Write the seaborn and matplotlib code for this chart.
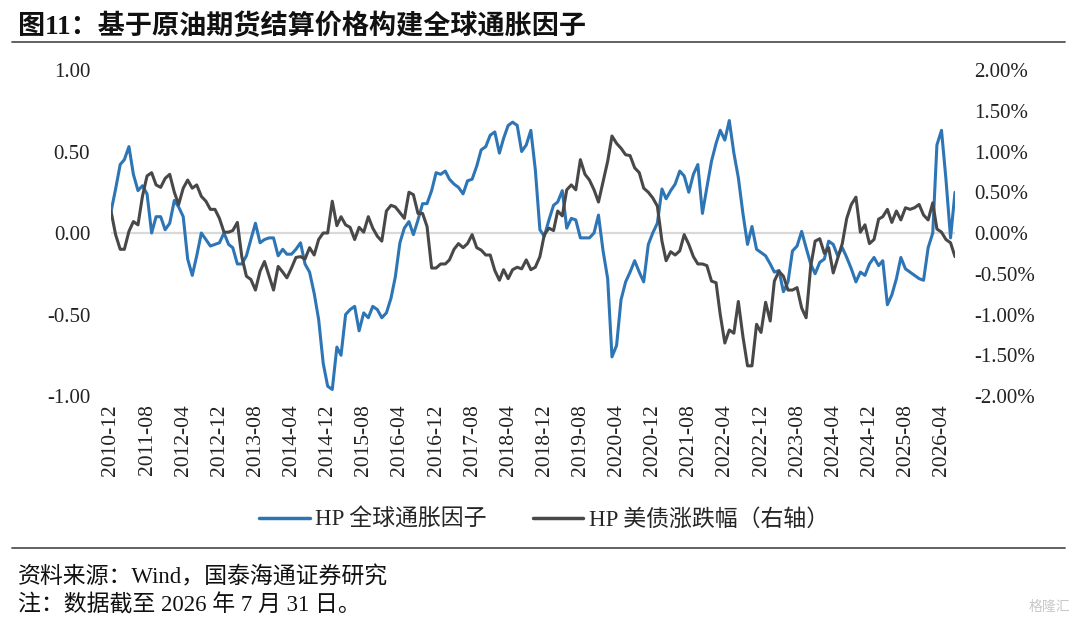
import matplotlib
matplotlib.use("Agg")
import matplotlib.pyplot as plt
from matplotlib.lines import Line2D
import seaborn as sns
import pandas as pd
import numpy as np

# monthly data, 2010-12 .. 2026-07
start_month = "2010-12"

# HP global inflation factor (left axis)
factor = [
    0.13, 0.27, 0.42, 0.45, 0.53, 0.36, 0.26, 0.29, 0.24, 0.00,
    0.10, 0.10, 0.02, 0.06, 0.20, 0.16, 0.10, -0.16, -0.26, -0.14,
    0.00, -0.04, -0.08, -0.07, -0.06, 0.00, -0.07, -0.09, -0.19, -0.19,
    -0.14, -0.04, 0.06, -0.06, -0.04, -0.03, -0.03, -0.14, -0.10, -0.13,
    -0.13, -0.10, -0.06, -0.19, -0.24, -0.37, -0.53, -0.80, -0.94,
    -0.96, -0.70, -0.75, -0.50, -0.47, -0.45, -0.60, -0.49, -0.52, -0.45, -0.47,
    -0.52, -0.49, -0.40, -0.27, -0.06, 0.03, 0.07, -0.01, 0.08, 0.18,
    0.18, 0.26, 0.37, 0.36, 0.38, 0.33, 0.30, 0.28, 0.24, 0.32,
    0.33, 0.41, 0.51, 0.53, 0.60, 0.62, 0.49, 0.58, 0.66, 0.68,
    0.66, 0.50, 0.54, 0.63, 0.39, 0.02,
    -0.02, 0.08, 0.17, 0.19,
    0.26, 0.03, 0.09, 0.08, -0.03, -0.03, -0.03, 0.00, 0.11, -0.11,
    -0.28, -0.76, -0.69, -0.41, -0.30, -0.24, -0.17, -0.24, -0.30, -0.07,
    0.00, 0.06, 0.27, 0.21, 0.26, 0.30, 0.38, 0.35, 0.25, 0.36,
    0.42, 0.12, 0.28, 0.44, 0.55, 0.63, 0.57, 0.69, 0.49, 0.34,
    0.12, -0.07,
    0.04, -0.10, -0.12, -0.14, -0.19, -0.24, -0.23, -0.36,
    -0.30, -0.11, -0.08, 0.01, -0.09, -0.19, -0.25, -0.18, -0.16, -0.05,
    -0.07, -0.14, -0.09, -0.15, -0.22, -0.30, -0.24, -0.26, -0.19, -0.15,
    -0.20, -0.17, -0.44, -0.38, -0.28, -0.15, -0.22, -0.24, -0.26, -0.28,
    -0.29, -0.09, 0.00, 0.54, 0.63, 0.33, -0.03, 0.25,
]

# HP US Treasury change, % (right axis)
bond = [
    0.27, -0.02, -0.20, -0.20, 0.02, 0.14, 0.10, 0.45, 0.70, 0.74,
    0.59, 0.56, 0.67, 0.72, 0.50, 0.35, 0.55, 0.65, 0.55, 0.59,
    0.45, 0.39, 0.29, 0.29, 0.18, 0.01, 0.01, 0.03, 0.13, -0.29,
    -0.53, -0.57, -0.70, -0.47, -0.35, -0.53, -0.70, -0.41, -0.48, -0.55,
    -0.43, -0.30, -0.29, -0.32, -0.18, -0.27, -0.08, 0.00, 0.00,
    0.39, 0.09, 0.20, 0.10, 0.07, -0.08, 0.07, 0.01, 0.20, 0.06, -0.04,
    -0.10, 0.27, 0.34, 0.32, 0.25, 0.18, 0.50, 0.47, 0.24, 0.24,
    0.08, -0.43, -0.43, -0.38, -0.38, -0.33, -0.20, -0.13, -0.18, -0.13,
    -0.02, -0.18, -0.21, -0.27, -0.27, -0.46, -0.58, -0.45, -0.56, -0.45,
    -0.42, -0.44, -0.33, -0.45, -0.42, -0.29,
    -0.02, 0.06, 0.03, 0.27,
    0.21, 0.53, 0.59, 0.53, 0.90, 0.72, 0.65, 0.53, 0.38, 0.63,
    0.88, 1.19, 1.10, 1.04, 0.96, 0.95, 0.80, 0.74, 0.55, 0.50,
    0.43, 0.33, -0.10, -0.34, -0.23, -0.27, -0.22, -0.02, -0.14, -0.29,
    -0.38, -0.38, -0.40, -0.59, -0.61, -1.00, -1.35, -1.19, -1.23, -0.84,
    -1.27, -1.63,
    -1.63, -1.12, -1.22, -0.85, -1.08, -0.59, -0.47, -0.53,
    -0.70, -0.70, -0.67, -0.92, -1.04, -0.41, -0.10, -0.07, -0.25, -0.18,
    -0.49, -0.31, -0.13, 0.18, 0.35, 0.44, 0.01, 0.10, -0.13, -0.08,
    0.17, 0.20, 0.29, 0.13, 0.27, 0.16, 0.31, 0.29, 0.31, 0.35,
    0.22, 0.16, 0.37, 0.05, 0.01, -0.08, -0.12, -0.29,
]

left_ticks = [-1.0, -0.5, 0.0, 0.5, 1.0]
right_ticks = [-2.0, -1.5, -1.0, -0.5, 0.0, 0.5, 1.0, 1.5, 2.0]

title = "图11：基于原油期货结算价格构建全球通胀因子"
label_factor = "HP 全球通胀因子"
label_bond = "HP 美债涨跌幅（右轴）"
source = "资料来源：Wind，国泰海通证券研究"
note = "注：数据截至 2026 年 7 月 31 日。"

BLUE = "#2E75B6"
GRAY = "#484848"

dates = pd.date_range(start_month, periods=len(factor), freq="MS")
df = pd.DataFrame({"date": dates, "factor": factor, "bond": bond})

sns.set_theme(style="white")
plt.rcParams["font.family"] = ["Liberation Serif", "Noto Sans CJK SC"]
plt.rcParams["axes.unicode_minus"] = False

W, H = 1080, 625
fig = plt.figure(figsize=(W / 100, H / 100), dpi=100)
ax = fig.add_axes([111 / W, 1 - 396 / H, (955 - 111) / W, (396 - 70) / H])

ax.axhline(0, color="#D9D9D9", lw=1.6, zorder=0)
sns.lineplot(data=df, x="date", y="factor", ax=ax, color=BLUE, lw=2.2, legend=False)
ax.set_ylim(-1, 1)
ax.set_yticks(left_ticks)
ax.set_yticklabels([f"{v:.2f}" for v in left_ticks], fontsize=15)
ax.set_xlim(dates[0], dates[-1])
tick_dates = dates[::8]
ax.set_xticks(tick_dates)
ax.set_xticklabels([d.strftime("%Y-%m") for d in tick_dates], rotation=90, fontsize=15.5)
ax.set_xlabel("")
ax.set_ylabel("")
ax.tick_params(axis="y", length=0, pad=15, colors="#222222")
ax.tick_params(axis="x", length=0, pad=6, colors="#222222")

ax2 = ax.twinx()
sns.lineplot(data=df, x="date", y="bond", ax=ax2, color=GRAY, lw=2.2, legend=False)
ax2.set_ylim(-2, 2)
ax2.set_yticks(right_ticks)
ax2.set_yticklabels([f"{v:.2f}%" for v in right_ticks], fontsize=15)
ax2.set_ylabel("")
ax2.tick_params(axis="y", length=0, pad=14, colors="#222222")

for a in (ax, ax2):
    for s in a.spines.values():
        s.set_visible(False)
    a.grid(False)

handles = [Line2D([], [], color=BLUE, lw=2.5), Line2D([], [], color=GRAY, lw=2.5)]
fig.legend(handles, [label_factor, label_bond], loc="center",
           bbox_to_anchor=(544 / W, 1 - 520 / H), ncol=2, frameon=False,
           fontsize=16.5, handlelength=2.2, handletextpad=0.25, columnspacing=2.0)

fig.text(18 / W, 1 - 27 / H, title, fontsize=19.5, fontweight="bold",
         va="center", ha="left", color="#111111")
fig.add_artist(Line2D([12 / W, 1065 / W], [1 - 42 / H, 1 - 42 / H], color="#555555", lw=1.3))
fig.add_artist(Line2D([12 / W, 1065 / W], [1 - 548 / H, 1 - 548 / H], color="#555555", lw=1.3))
fig.text(18 / W, 1 - 577 / H, source, fontsize=16.5, va="center", ha="left", color="#111111")
fig.text(18 / W, 1 - 605 / H, note, fontsize=16.5, va="center", ha="left", color="#111111")
fig.text(1070 / W, 1 - 607 / H, "格隆汇", fontsize=10, va="center", ha="right", color="#C8C8C8")

fig.savefig("out.png", dpi=100)
